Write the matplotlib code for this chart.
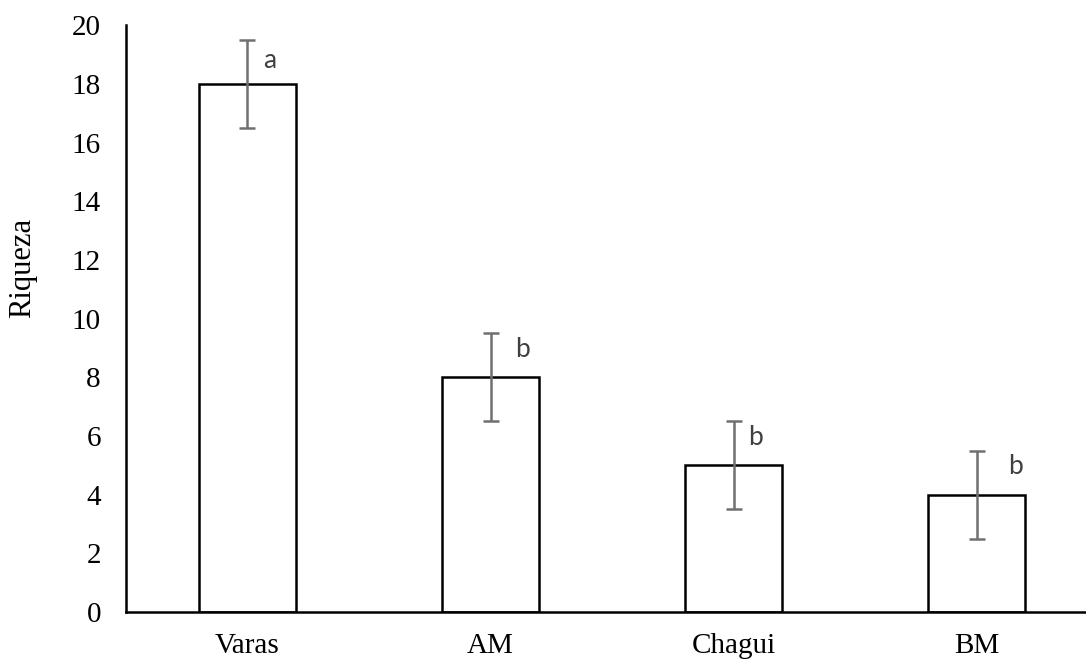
import numpy as np
import matplotlib
matplotlib.use("Agg")
import matplotlib.pyplot as plt

# ==============================
# Data
# ==============================
sites = ["Varas", "AM", "Chagui", "BM"]
riqueza = [18, 8, 5, 4]
err = [1.5, 1.5, 1.5, 1.5]
letters = ["a", "b", "b", "b"]

# ==============================
# Plot
# ==============================
fig = plt.figure(figsize=(10.86, 6.61), dpi=100)
ax = fig.add_axes([0.116, 0.074, 0.884, 0.888])

x = np.arange(len(sites))
ax.bar(x, riqueza, width=0.4, color="white", edgecolor="black", linewidth=1.8, zorder=2)
ax.errorbar(x, riqueza, yerr=err, fmt="none", ecolor="#707070",
            elinewidth=1.8, capsize=6, capthick=1.8, zorder=3)

# significance letters (placed beside the top of each error bar)
x_off = [0.09, 0.13, 0.09, 0.16]
y_off = [-0.97, -0.8, -0.8, -0.8]
for xi, v, e, lab, dx, dy in zip(x, riqueza, err, letters, x_off, y_off):
    ax.text(xi + dx, v + e + dy, lab, ha="center", va="baseline",
            fontsize=19, color="#404040", family="Lato")

ax.set_xlim(-0.5, 3.45)
ax.set_ylim(0, 20)
ax.set_yticks(range(0, 21, 2))
ax.set_xticks(x)
ax.set_xticklabels(sites)

for s in ["top", "right"]:
    ax.spines[s].set_visible(False)
ax.spines["left"].set_linewidth(1.8)
ax.spines["bottom"].set_linewidth(1.8)

ax.tick_params(axis="y", length=0, pad=18, labelsize=21)
ax.tick_params(axis="x", length=0, pad=15, labelsize=21)
for lbl in ax.get_xticklabels() + ax.get_yticklabels():
    lbl.set_family("Liberation Serif")

ax.set_ylabel("Riqueza", fontsize=22, family="Liberation Serif")
ax.yaxis.set_label_coords(-0.093, 0.586)

fig.savefig("out.png", dpi=100)
